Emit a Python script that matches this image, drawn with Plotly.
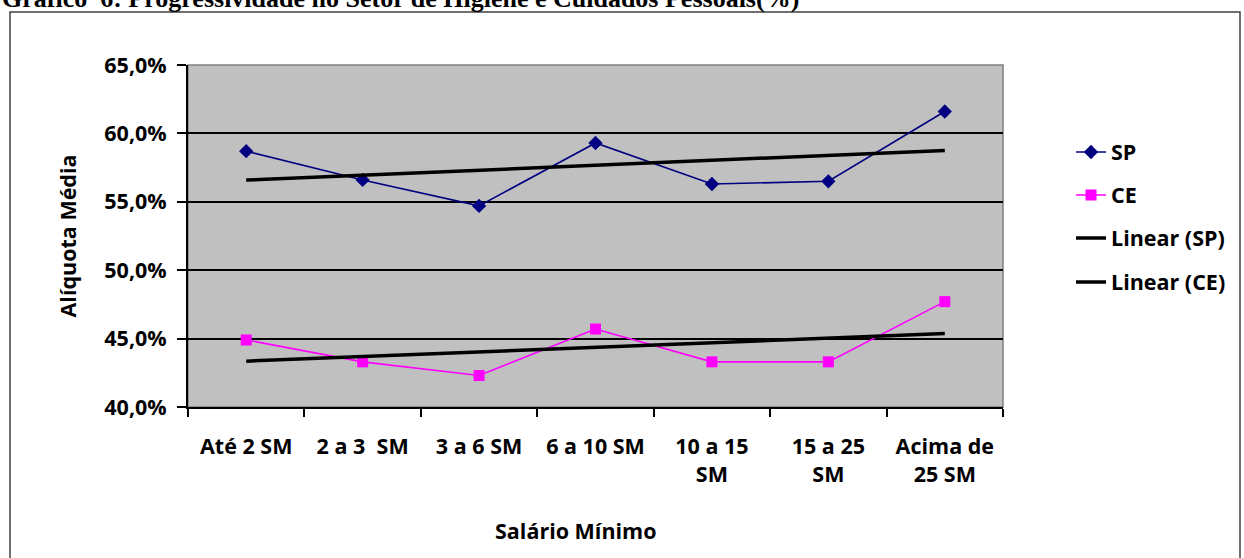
import numpy as np
import plotly.graph_objects as go

# Income brackets (salários mínimos) and average tax rates (%)
faixas = ["Até 2 SM", "2 a 3  SM", "3 a 6 SM", "6 a 10 SM",
          "10 a 15<br>SM", "15 a 25<br>SM", "Acima de<br>25 SM"]
aliquota_sp = [58.7, 56.6, 54.7, 59.3, 56.3, 56.5, 61.6]
aliquota_ce = [44.9, 43.3, 42.3, 45.7, 43.3, 43.3, 47.7]
y_ticks = [40, 45, 50, 55, 60, 65]
y_tick_text = [f"{v:.1f}%".replace(".", ",") for v in y_ticks]

W, H = 1244, 558
L, R, T, B = 188, 1003, 65, 407          # plot area in pixels
PW, PH = R - L, B - T


def px(x):
    return (x - L) / PW


def py(y):
    return (B - y) / PH


FONT = "Open Sans"
FS = 21.5
bold = dict(family=FONT, size=FS, color="black", weight="bold")

idx = np.arange(len(faixas))


def trend(vals):
    k, b = np.polyfit(idx, vals, 1)
    return list(k * idx + b)


fig = go.Figure()
fig.add_trace(go.Scatter(
    x=faixas, y=aliquota_sp, name="SP", mode="lines+markers",
    line=dict(color="#000080", width=1.6),
    marker=dict(symbol="diamond", size=11, color="#000080"),
    showlegend=True, legend="legend"))
fig.add_trace(go.Scatter(
    x=faixas, y=aliquota_ce, name="CE", mode="lines+markers",
    line=dict(color="#FF00FF", width=1.6),
    marker=dict(symbol="square", size=11, color="#FF00FF"),
    showlegend=True, legend="legend2"))
fig.add_trace(go.Scatter(
    x=faixas, y=trend(aliquota_sp), name="Linear (SP)", mode="lines",
    line=dict(color="black", width=3.5), showlegend=True, legend="legend3"))
fig.add_trace(go.Scatter(
    x=faixas, y=trend(aliquota_ce), name="Linear (CE)", mode="lines",
    line=dict(color="black", width=3.5), showlegend=True, legend="legend4"))

legend_rows = [152, 195, 238, 282]
legend_common = dict(x=px(1071), xanchor="left", yanchor="middle",
                     bgcolor="rgba(0,0,0,0)", font=bold, visible=True)

shapes = [
    # outer chart frame
    dict(type="rect", xref="paper", yref="paper",
         x0=px(10), x1=px(1240), y0=py(575), y1=py(12),
         line=dict(color="#404040", width=1.5), layer="below"),
    # plot area border (top and right in grey)
    dict(type="rect", xref="paper", yref="paper",
         x0=0, x1=1, y0=0, y1=1,
         line=dict(color="#808080", width=1.5), layer="below"),
]

annotations = [
    dict(text="<b>Gráfico  6: Progressividade no Setor de Higiene e Cuidados Pessoais(%)</b>",
         xref="paper", yref="paper", x=px(0), y=py(15),
         xanchor="left", yanchor="bottom", showarrow=False,
         font=dict(family="Liberation Serif", size=26, color="black")),
    dict(text="Salário Mínimo", xref="paper", yref="paper",
         x=px(576), y=py(530), xanchor="center", yanchor="middle",
         showarrow=False, font=bold),
]

fig.update_layout(
    width=W, height=H,
    margin=dict(l=L, r=W - R, t=T, b=H - B, autoexpand=False),
    paper_bgcolor="white", plot_bgcolor="#C0C0C0",
    font=bold, showlegend=True,
    legend=dict(y=py(legend_rows[0]), **legend_common),
    legend2=dict(y=py(legend_rows[1]), **legend_common),
    legend3=dict(y=py(legend_rows[2]), **legend_common),
    legend4=dict(y=py(legend_rows[3]), **legend_common),
    shapes=shapes, annotations=annotations,
    xaxis=dict(
        type="category", range=[-0.5, len(faixas) - 0.5],
        tickson="boundaries", ticks="outside", ticklen=8, tickwidth=1.5,
        tickcolor="black", showline=True, linecolor="black", linewidth=2,
        showgrid=False, ticklabelstandoff=19, tickfont=bold),
    yaxis=dict(
        range=[40, 65], tickvals=y_ticks, ticktext=y_tick_text,
        ticks="outside", ticklen=9, tickwidth=1.5, tickcolor="black",
        showline=True, linecolor="black", linewidth=2,
        showgrid=True, gridcolor="black", gridwidth=1.5, zeroline=False,
        ticklabelstandoff=6, tickfont=bold,
        title=dict(text="Alíquota Média", standoff=22, font=bold)),
)

fig.write_html("out.html")
